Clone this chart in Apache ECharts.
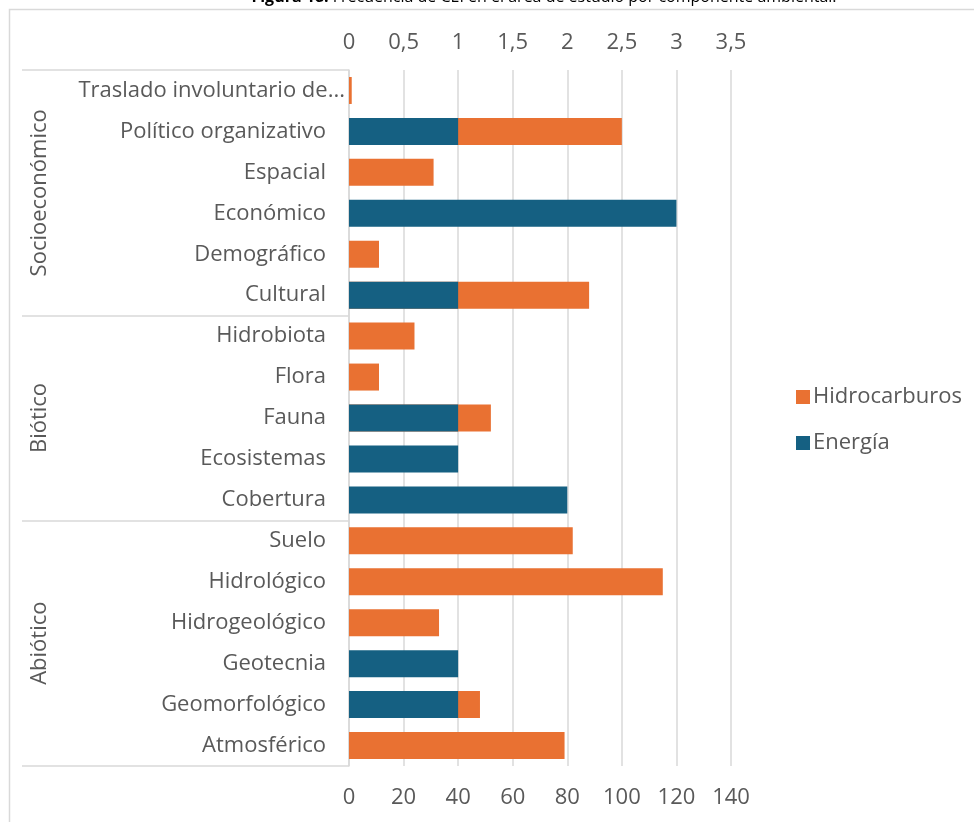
<!DOCTYPE html>
<html>
<head>
<meta charset="utf-8">
<script src="https://cdn.jsdelivr.net/npm/echarts@6/dist/echarts.min.js"></script>
<style>
  html, body { margin: 0; padding: 0; background: #ffffff; }
  #chart { width: 974px; height: 822px; }
</style>
</head>
<body>
<div id="chart"></div>
<script>
// Categories, top to bottom
const categories = [
  'Traslado involuntario de...', 'Político organizativo', 'Espacial', 'Económico', 'Demográfico', 'Cultural',
  'Hidrobiota', 'Flora', 'Fauna', 'Ecosistemas', 'Cobertura',
  'Suelo', 'Hidrológico', 'Hidrogeológico', 'Geotecnia', 'Geomorfológico', 'Atmosférico'
];
// Component groups and how many categories each one covers
const groupNames = ['Socioeconómico', 'Biótico', 'Abiótico'];
const groupSizes = [6, 5, 6];

// Hidrocarburos (lower axis, 0–140)
const hidrocarburos = [1, 100, 31, null, 11, 88, 24, 11, 52, null, null, 82, 115, 33, null, 48, 79];
// Energía (upper axis, 0–3.5)
const energia = [null, 1, null, 3, null, 1, null, null, 1, 1, 2, null, null, null, 1, 1, null];

const seriesNames = ['Hidrocarburos', 'Energía'];
const titleBold = 'Figura 18.';
const titleText = ' Frecuencia de CEI en el área de estudio por componente ambiental.';

// Group start indices (used for the bracket ticks) and centres (for the group labels)
const groupStarts = [];
const centers = [];
let acc = 0;
groupSizes.forEach(function (n) {
  groupStarts.push(acc);
  centers.push(acc + n / 2);
  acc += n;
});

const FONT = 'Open Sans';
const FS = 22;
const GREY = '#595959';
const LINE = '#d9d9d9';
const ORANGE = '#E97132';
const BLUE = '#156082';

const chart = echarts.init(document.getElementById('chart'), null, { renderer: 'canvas' });

chart.setOption({
  backgroundColor: '#ffffff',
  animation: false,
  textStyle: { fontFamily: FONT },
  graphic: [
    {
      type: 'rect',
      z: -10,
      shape: { x: 9.5, y: 9.5, width: 1200, height: 1000 },
      style: { fill: 'none', stroke: LINE, lineWidth: 1.5 }
    },
    {
      type: 'text',
      x: 544,
      y: -3,
      style: {
        text: '{b|' + titleBold + '}{n|' + titleText + '}',
        align: 'center',
        verticalAlign: 'middle',
        rich: {
          b: { fontFamily: FONT, fontSize: 16, fontWeight: 'bold', fill: '#000000' },
          n: { fontFamily: FONT, fontSize: 16, fill: '#000000' }
        }
      }
    }
  ],
  legend: {
    orient: 'vertical',
    left: 791,
    top: 381,
    itemWidth: 14,
    itemHeight: 14,
    itemGap: 24,
    icon: 'rect',
    data: seriesNames,
    textStyle: { color: GREY, fontSize: FS, fontFamily: FONT, padding: [0, 0, 0, -2] }
  },
  grid: { left: 349, right: 243, top: 70, bottom: 56, containLabel: false },
  xAxis: [
    {
      type: 'value',
      position: 'top',
      min: 0,
      max: 3.5,
      interval: 0.5,
      axisLine: { show: false },
      axisTick: { show: false },
      splitLine: { show: false },
      axisLabel: {
        color: GREY,
        fontSize: FS,
        fontFamily: FONT,
        margin: 16,
        formatter: function (v) { return String(v).replace('.', ','); }
      }
    },
    {
      type: 'value',
      position: 'bottom',
      min: 0,
      max: 140,
      interval: 20,
      axisLine: { show: false },
      axisTick: { show: false },
      splitLine: { show: true, lineStyle: { color: LINE, width: 1.5 } },
      axisLabel: { color: GREY, fontSize: FS, fontFamily: FONT, margin: 21 }
    }
  ],
  yAxis: [
    {
      type: 'category',
      inverse: true,
      data: categories,
      axisLine: { show: true, lineStyle: { color: LINE, width: 1.5 } },
      // Long ticks at group boundaries form the bracket lines
      axisTick: {
        show: true,
        length: 327,
        interval: function (index) { return groupStarts.indexOf(index) >= 0; },
        lineStyle: { color: LINE, width: 1.5 }
      },
      axisLabel: {
        margin: 4,
        color: GREY,
        fontSize: FS,
        fontFamily: FONT,
        interval: 0,
        formatter: function (v, i) {
          return (i === 0 ? '{t|' : '{n|') + v + '}';
        },
        rich: {
          t: { color: GREY, fontSize: FS, fontFamily: FONT },
          n: { color: GREY, fontSize: FS, fontFamily: FONT, padding: [0, 19, 0, 0] }
        }
      }
    },
    {
      // Group names, rotated, to the left of the category labels
      type: 'value',
      inverse: true,
      position: 'left',
      offset: 327,
      min: 0,
      max: categories.length,
      axisLine: { show: false },
      splitLine: { show: false },
      axisTick: { show: false },
      axisLabel: {
        show: true,
        inside: true,
        rotate: 90,
        margin: 7,
        color: GREY,
        fontSize: FS,
        fontFamily: FONT,
        customValues: centers,
        formatter: function (v) {
          const idx = centers.indexOf(v);
          return idx >= 0 ? groupNames[idx] : '';
        }
      }
    }
  ],
  series: [
    {
      name: seriesNames[0],
      type: 'bar',
      xAxisIndex: 1,
      yAxisIndex: 0,
      data: hidrocarburos,
      barWidth: 27,
      barGap: '-100%',
      z: 2,
      itemStyle: { color: ORANGE }
    },
    {
      name: seriesNames[1],
      type: 'bar',
      xAxisIndex: 0,
      yAxisIndex: 0,
      data: energia,
      barWidth: 27,
      barGap: '-100%',
      z: 3,
      itemStyle: { color: BLUE }
    }
  ]
});
</script>
</body>
</html>
